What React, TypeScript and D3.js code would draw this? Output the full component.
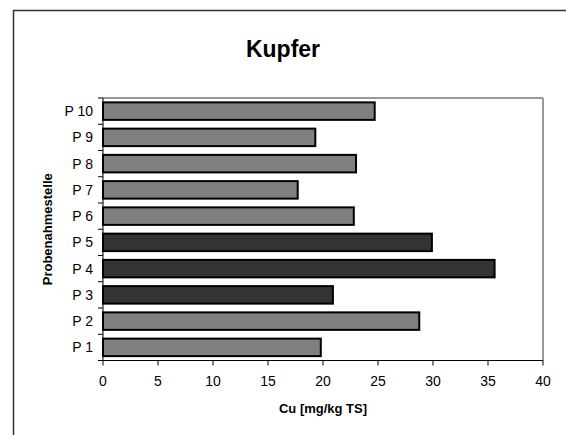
import React from "react";
import * as d3 from "d3";

const categories = ["P 1", "P 2", "P 3", "P 4", "P 5", "P 6", "P 7", "P 8", "P 9", "P 10"];
const values = [19.8, 28.75, 20.9, 35.6, 29.9, 22.8, 17.7, 23.0, 19.3, 24.7];
const highlighted = ["P 3", "P 4", "P 5"];
const xTicks = [0, 5, 10, 15, 20, 25, 30, 35, 40];
const title = "Kupfer";
const xTitle = "Cu [mg/kg TS]";
const yTitle = "Probenahmestelle";

const W = 566;
const H = 435;
const plot = { left: 103, right: 543, top: 98, bottom: 360.5 };
const font = "Arial, 'Liberation Sans', sans-serif";

export default function App() {
  const x = d3.scaleLinear().domain([0, 40]).range([plot.left, plot.right]);
  const y = d3
    .scaleBand<string>()
    .domain([...categories].reverse())
    .range([plot.top, plot.bottom])
    .paddingInner(1 / 3)
    .paddingOuter(1 / 6);
  const step = y.step();
  const boundaries = d3.range(categories.length + 1).map((i) => plot.top + i * step);

  return (
    <svg
      width={W}
      height={H}
      style={{ position: "absolute", left: 0, top: 0, background: "#fff" }}
      fontFamily={font}
    >
      <rect x={0} y={0} width={W} height={H} fill="#fff" />
      {/* outer frame extends off-canvas */}
      <rect x={13.5} y={10.5} width={W + 20} height={H + 20} fill="none" stroke="#333" strokeWidth={1.5} />
      <text x={283} y={57} textAnchor="middle" fontSize={23} fontWeight="bold" fill="#000">
        {title}
      </text>
      {/* plot area border (gray top/right) */}
      <line x1={plot.left} x2={plot.right} y1={plot.top} y2={plot.top} stroke="#999" strokeWidth={2} />
      <line x1={plot.right} x2={plot.right} y1={plot.top} y2={plot.bottom} stroke="#999" strokeWidth={2} />
      {/* bars */}
      {categories.map((c, i) => (
        <rect
          key={c}
          x={x(0)}
          y={y(c)!}
          width={x(values[i]) - x(0)}
          height={y.bandwidth()}
          fill={highlighted.includes(c) ? "#333333" : "#808080"}
          stroke="#000"
          strokeWidth={2}
        />
      ))}
      {/* axes */}
      <line x1={plot.left} x2={plot.left} y1={plot.top} y2={plot.bottom} stroke="#000" strokeWidth={1} />
      <line x1={plot.left - 5} x2={plot.right} y1={plot.bottom} y2={plot.bottom} stroke="#000" strokeWidth={1} />
      {boundaries.map((b, i) => (
        <line key={"yt" + i} x1={plot.left - 5} x2={plot.left} y1={b} y2={b} stroke="#000" strokeWidth={1} />
      ))}
      {xTicks.map((t) => (
        <g key={"xt" + t}>
          <line x1={x(t)} x2={x(t)} y1={plot.bottom} y2={plot.bottom + 5} stroke="#000" strokeWidth={1} />
          <text x={x(t)} y={386} textAnchor="middle" fontSize={14} fill="#000">
            {t}
          </text>
        </g>
      ))}
      {categories.map((c) => (
        <text
          key={"yl" + c}
          x={93}
          y={y(c)! + y.bandwidth() / 2}
          dy="0.35em"
          textAnchor="end"
          fontSize={14}
          fill="#000"
        >
          {c}
        </text>
      ))}
      <text x={(plot.left + plot.right) / 2} y={413} textAnchor="middle" fontSize={13} fontWeight="bold" fill="#000">
        {xTitle}
      </text>
      <text
        transform={`translate(52, ${(plot.top + plot.bottom) / 2}) rotate(-90)`}
        textAnchor="middle"
        fontSize={13}
        fontWeight="bold"
        fill="#000"
      >
        {yTitle}
      </text>
    </svg>
  );
}
